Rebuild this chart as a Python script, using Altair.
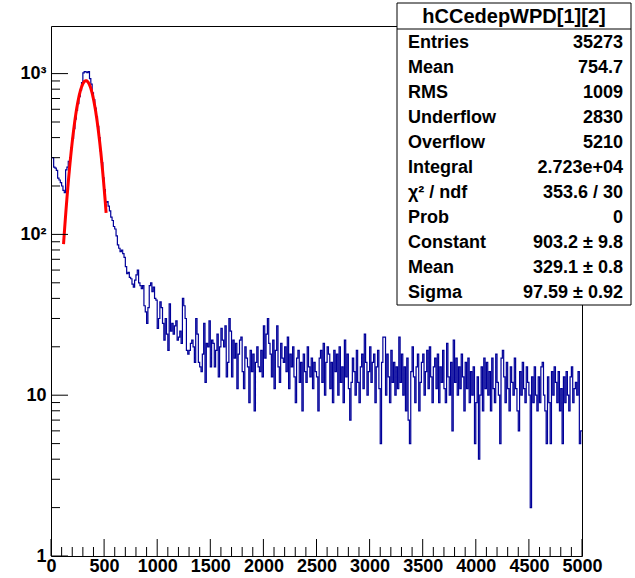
import altair as alt
import numpy as np
import pandas as pd

# ---- histogram hCCedepWPD[1][2]: 400 bins of width 12.5 over [0, 5000] ----
bin_width = 12.5
x_range = [0, 5000]
counts = [
    300, 300, 262, 258, 250, 224, 218, 210, 200, 188,
    182, 252, 262, 285, 300, 345, 395, 455, 520, 590,
    650, 720, 790, 880, 1010, 1030, 1025, 1015, 1030, 930,
    860, 760, 690, 610, 540, 470, 400, 330, 280, 225,
    190, 158, 160, 150, 140, 128, 122, 112, 108, 98,
    86, 82, 78, 80, 76, 72, 63, 57, 58, 54,
    53, 49, 47, 52, 56, 60, 50, 48, 46, 48,
    36, 33, 28, 35, 48, 50, 44, 47, 40, 39,
    26, 30, 38, 35, 28, 22, 30, 24, 19, 37,
    25, 28, 24, 27, 29, 22, 23, 25, 21, 40,
    36, 30, 19, 18, 19, 21, 22, 20, 16, 30,
    24, 16, 15, 14, 18, 28, 12, 21, 20, 29,
    15, 22, 21, 15, 19, 24, 13, 20, 26, 22,
    20, 27, 13, 16, 30, 25, 13, 22, 17, 21,
    11, 18, 22, 23, 14, 11, 20, 17, 15, 9,
    19, 14, 18, 8, 16, 20, 15, 14, 19, 13,
    27, 17, 24, 30, 21, 18, 13, 22, 11, 19,
    27, 15, 12, 21, 17, 16, 20, 14, 23, 11,
    18, 15, 20, 13, 9, 17, 19, 12, 16, 8,
    18, 14, 12, 20, 15, 13, 17, 11, 16, 14,
    13, 8, 17, 19, 12, 21, 10, 16, 20, 18,
    11, 16, 9, 19, 14, 18, 10, 20, 12, 15,
    9, 22, 13, 18, 11, 7, 12, 17, 14, 10,
    19, 12, 9, 15, 18, 11, 24, 16, 10, 14,
    20, 12, 16, 18, 9, 15, 19, 11, 5, 16,
    23, 23, 10, 18, 13, 9, 19, 12, 16, 10,
    15, 11, 23, 12, 18, 10, 15, 8, 17, 7,
    5, 14, 20, 13, 9, 15, 18, 8, 12, 16,
    18, 10, 14, 19, 11, 20, 13, 9, 15, 17,
    11, 18, 9, 15, 12, 19, 11, 9, 21, 13,
    10, 16, 6, 22, 12, 17, 10, 15, 11, 18,
    13, 8, 16, 11, 17, 9, 14, 10, 15, 5,
    9, 13, 4, 10, 15, 8, 17, 11, 16, 10,
    14, 8, 17, 11, 9, 18, 12, 10, 5, 17,
    19, 13, 9, 16, 11, 8, 15, 12, 10, 17,
    11, 8, 6, 14, 10, 16, 11, 9, 15, 12,
    10, 2, 13, 9, 15, 10, 8, 13, 9, 15,
    16, 10, 8, 5, 13, 9, 5, 14, 10, 15,
    12, 9, 14, 8, 11, 5, 13, 9, 14, 10,
    8, 13, 15, 9, 11, 12, 10, 14, 5, 6,
]

# ---- gaus fit result ----
fit_constant, fit_constant_err = 903.2, 9.8
fit_mean, fit_mean_err = 329.1, 0.8
fit_sigma, fit_sigma_err = 97.59, 0.92
fit_range = [118, 519]
chi2, ndf, prob = 353.6, 30, 0

# ---- statistics ----
hist_name = "hCCedepWPD[1][2]"
entries = 35273
mean = 754.7
rms = 1009
underflow = 2830
overflow = 5210
integral = "2.723e+04"

# axis tick positions
x_major = list(range(0, 5001, 500))
x_minor = [v for v in range(0, 5001, 100) if v % 500 != 0]
y_major = [1, 10, 100, 1000]
y_minor = [m * d for d in (1, 10, 100) for m in range(2, 10)]
y_top = 1977

FONT = "Liberation Sans"
W, H = 531, 530

# step outline: left bin edges plus closing point at the upper edge
edges = [i * bin_width for i in range(len(counts))] + [x_range[1]]
hist_df = pd.DataFrame({"x": edges, "y": counts + [counts[-1]]})

fx = np.linspace(fit_range[0], fit_range[1], 120)
fy = fit_constant * np.exp(-0.5 * ((fx - fit_mean) / fit_sigma) ** 2)
fit_df = pd.DataFrame({"x": fx, "y": fy})

xscale = alt.Scale(domain=x_range, nice=False, zero=False)
yscale = alt.Scale(type="log", domain=[1, y_top], nice=False)

x_axis = alt.Axis(
    values=x_major, format="d", ticks=False, domain=False, grid=False,
    labelFont=FONT, labelFontSize=18, labelFontWeight="bold",
    labelColor="black", labelPadding=1, labelFlush=False,
    labelOverlap=False, title=None)
y_axis = alt.Axis(
    values=y_major, ticks=False, domain=False, grid=False,
    labelExpr="datum.value == 1 ? '1' : datum.value == 10 ? '10' : "
              "datum.value == 100 ? '10²' : '10³'",
    labelFont=FONT, labelFontSize=18, labelFontWeight="bold",
    labelColor="black", labelPadding=5, labelOverlap=False, title=None)

X = alt.X("x:Q", scale=xscale, axis=x_axis)
Y = alt.Y("y:Q", scale=yscale, axis=y_axis)

hist = alt.Chart(hist_df).mark_line(
    interpolate="step-after", color="#000099", strokeWidth=1.2
).encode(x=X, y=Y)

fit = alt.Chart(fit_df).mark_line(color="#ff0000", strokeWidth=3).encode(x=X, y=Y)


def x_ticks(vals, length):
    return alt.Chart(pd.DataFrame({"x": vals})).mark_rule(
        color="black", strokeWidth=1
    ).encode(x=X, y=alt.value(H), y2=alt.value(H - length))


def y_ticks(vals, length):
    return alt.Chart(pd.DataFrame({"y": vals})).mark_rule(
        color="black", strokeWidth=1
    ).encode(y=Y, x=alt.value(0), x2=alt.value(length))


ticks = [x_ticks(x_major, 17), x_ticks(x_minor, 9),
         y_ticks(y_major, 17), y_ticks(y_minor, 9)]

# ---- statistics box (view coordinates, origin at the frame's top-left) ----
box_l, box_r, box_t, box_b = 346, 580, -23, 279
row_top, row_step = 16.7, 25.0
one = pd.DataFrame({"k": [0]})

box = alt.Chart(one).mark_rect(
    fill="white", stroke="black", strokeWidth=1
).encode(x=alt.value(box_l), x2=alt.value(box_r),
         y=alt.value(box_t), y2=alt.value(box_b))

box_sep = alt.Chart(one).mark_rule(color="black", strokeWidth=1).encode(
    x=alt.value(box_l), x2=alt.value(box_r), y=alt.value(3))

box_title = alt.Chart(one).mark_text(
    font=FONT, fontSize=20, fontWeight="bold", align="center",
    baseline="middle", color="black"
).encode(x=alt.value((box_l + box_r) / 2), y=alt.value(-9.5),
         text=alt.value(hist_name))

stat_names = ["Entries", "Mean", "RMS", "Underflow", "Overflow", "Integral",
              "χ² / ndf", "Prob", "Constant", "Mean", "Sigma"]
stat_values = [
    f"{entries}", f"{mean}", f"{rms}", f"{underflow}", f"{overflow}", integral,
    f"{chi2} / {ndf}", f"{prob}",
    f"{fit_constant} ± {fit_constant_err}",
    f"{fit_mean} ± {fit_mean_err}",
    f"{fit_sigma} ± {fit_sigma_err}",
]


def stat_column(lines, align, xpos):
    # one multi-line text mark; the first line sits at row_top
    return alt.Chart(one).mark_text(
        font=FONT, fontSize=18, fontWeight="bold", align=align,
        baseline="middle", color="black", lineHeight=row_step
    ).encode(x=alt.value(xpos), y=alt.value(row_top),
             text=alt.value(lines))


row_names = stat_column(stat_names, "left", box_l + 11)
row_values = stat_column(stat_values, "right", box_r - 8)

chart = alt.layer(
    hist, fit, *ticks, box, box_sep, box_title, row_names, row_values
).properties(
    width=W, height=H,
    autosize=alt.AutoSizeParams(type="none"),
    padding={"left": 51, "top": 26, "right": 53, "bottom": 22},
    background="white",
).configure_view(stroke="black", strokeWidth=1)

chart.save("out.html", embed_options={"renderer": "svg", "actions": False})
